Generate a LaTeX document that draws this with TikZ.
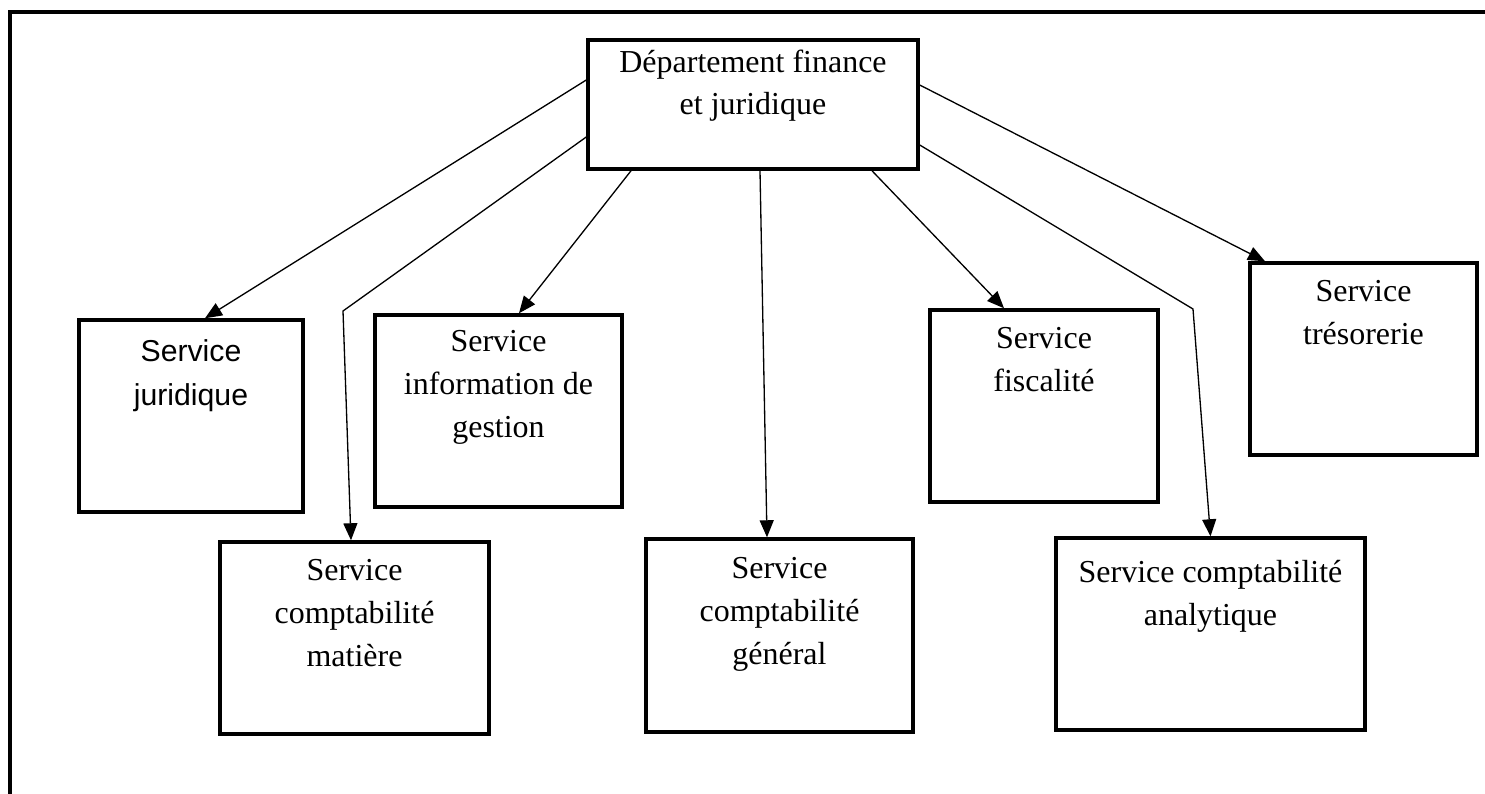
\documentclass[tikz,border=0pt]{standalone}
\usepackage{fontspec}
\setmainfont{Liberation Serif}
\newfontfamily\arialfont{Liberation Sans}
\usetikzlibrary{positioning,arrows.meta}

\begin{document}
\begin{tikzpicture}[x=0.02cm, y=-0.02cm,
        box/.style={draw, line width=2pt, inner sep=0pt},
        txt/.style={align=center, inner sep=0pt, font=\fontsize{18.2}{24.4}\selectfont},
        txtsans/.style={align=center, inner sep=0pt, font=\arialfont\fontsize{17.2}{25.6}\selectfont},
        conn/.style={-{Triangle[length=0.34cm, width=0.28cm]}, line width=0.75pt}]
        \useasboundingbox (0,0) rectangle (1485,794);
        % cadre
        \draw[line width=2pt] (10,794) -- (10,12) -- (1485,12);
        % boites
        \node[box, minimum width=6.6cm, minimum height=2.58cm] (dep) at (753,104.5) {};
        \node[box, minimum width=4.48cm, minimum height=3.84cm] (jur) at (191,416) {};
        \node[box, minimum width=5.38cm, minimum height=3.84cm] (mat) at (354.5,638) {};
        \node[box, minimum width=4.94cm, minimum height=3.84cm] (info) at (498.5,411) {};
        \node[box, minimum width=5.34cm, minimum height=3.86cm] (gen) at (779.5,635.5) {};
        \node[box, minimum width=4.56cm, minimum height=3.84cm] (fisc) at (1044,406) {};
        \node[box, minimum width=6.18cm, minimum height=3.84cm] (anal) at (1210.5,634) {};
        \node[box, minimum width=4.54cm, minimum height=3.84cm] (treso) at (1363.5,359) {};
        % textes
        \node[txt, below=0.22cm of dep.north] (deptxt) {Département finance\\et juridique};
        \node[txtsans, below=0.41cm of jur.north] (jurtxt) {Service\\juridique};
        \node[txt, below=0.37cm of mat.north] (mattxt) {Service\\comptabilité\\matière};
        \node[txt, below=0.33cm of info.north] (infotxt) {Service\\information de\\gestion};
        \node[txt, below=0.39cm of gen.north] (gentxt) {Service\\comptabilité\\général};
        \node[txt, below=0.37cm of fisc.north] (fisctxt) {Service\\fiscalité};
        \node[txt, below=0.47cm of anal.north] (analtxt) {Service comptabilité\\analytique};
        \node[txt, below=0.37cm of treso.north] (tresotxt) {Service\\trésorerie};
        % coudes
        \coordinate (bendL) at (343,311);
        \coordinate (bendR) at (1193,309);
        % fleches
        \draw[conn] ([yshift=0.49cm]dep.west) -- ([xshift=0.28cm]jur.north);
        \draw[conn] ([yshift=-0.65cm]dep.west) -- (bendL) -- ([xshift=-0.07cm]mat.north);
        \draw[conn] ([xshift=-2.44cm]dep.south) -- ([xshift=0.41cm]info.north);
        \draw[conn] ([xshift=0.14cm]dep.south) -- ([xshift=-0.25cm]gen.north);
        \draw[conn] ([xshift=2.38cm]dep.south) -- ([xshift=-0.8cm]fisc.north);
        \draw[conn] ([yshift=-0.81cm]dep.east) -- (bendR) -- (anal.north);
        \draw[conn] ([yshift=0.39cm]dep.east) -- ([xshift=-1.97cm]treso.north);
\end{tikzpicture}
\end{document}
